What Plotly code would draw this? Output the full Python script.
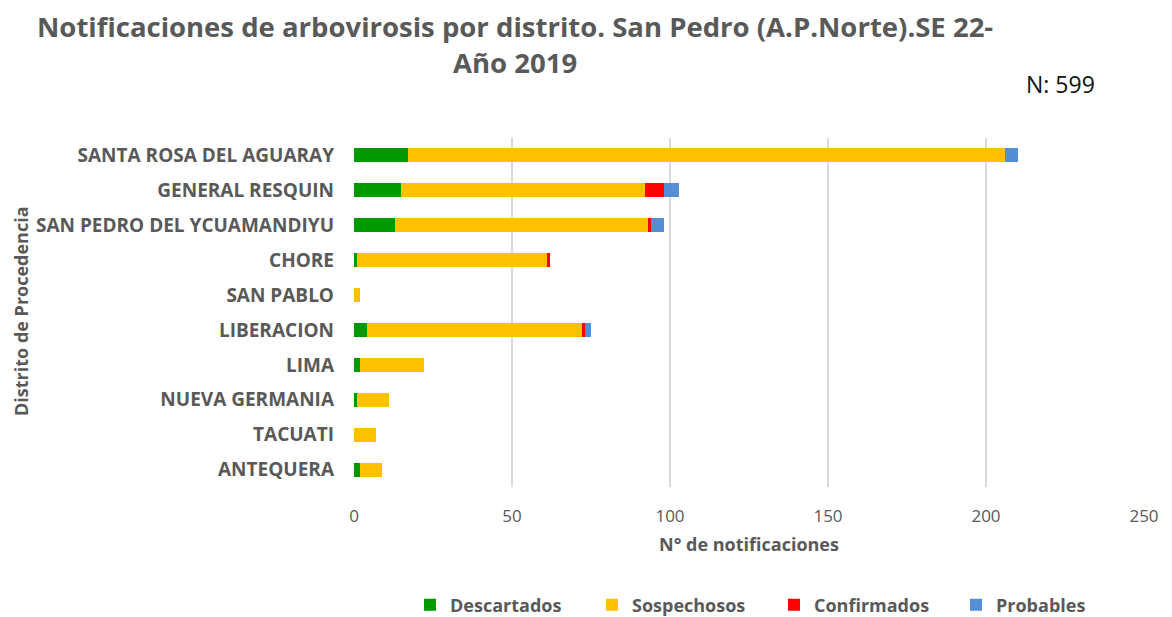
import plotly.graph_objects as go

distritos = ["SANTA ROSA DEL AGUARAY", "GENERAL RESQUIN", "SAN PEDRO DEL YCUAMANDIYU",
             "CHORE", "SAN PABLO", "LIBERACION", "LIMA", "NUEVA GERMANIA",
             "TACUATI", "ANTEQUERA"]
descartados = [17, 15, 13, 1, 0, 4, 2, 1, 0, 2]
sospechosos = [189, 77, 80, 60, 2, 68, 20, 10, 7, 7]
confirmados = [0, 6, 1, 1, 0, 1, 0, 0, 0, 0]
probables = [4, 5, 4, 0, 0, 2, 0, 0, 0, 0]
x_ticks = [0, 50, 100, 150, 200, 250]

W, H = 1172, 617
OFF = 8  # page body margin
# plot area in screen pixels (reference): x 354..1144, y 138..487
L, R, T, B = 354 - OFF, W - (1144 - OFF), 138 - OFF, H - (487 - OFF)

series = [("Descartados", descartados, "#009900"),
          ("Sospechosos", sospechosos, "#FFC000"),
          ("Confirmados", confirmados, "#FF0000"),
          ("Probables", probables, "#558ED5")]

fig = go.Figure()
for name, vals, col in series:
    fig.add_trace(go.Bar(y=distritos, x=vals, name="<b>" + name + "</b>", orientation="h",
                         marker=dict(color=col, line=dict(width=0))))

grey = "#595959"

def px_to_paper_x(px):
    return (px - OFF - L) / (W - L - R)

def px_to_paper_y(py):
    return (H - B - (py - OFF)) / (H - T - B)

fig.update_layout(
    width=W, height=H, barmode="stack", bargap=0.6,
    margin=dict(l=L, r=R, t=T, b=B, autoexpand=False),
    paper_bgcolor="white", plot_bgcolor="white",
    font=dict(family="Open Sans", color=grey),
    showlegend=True,
    legend=dict(orientation="h", x=px_to_paper_x(410), xanchor="left",
                y=px_to_paper_y(605), yanchor="middle",
                font=dict(size=18, color=grey, family="Open Sans"),
                traceorder="normal", entrywidth=137, entrywidthmode="pixels"),
    xaxis=dict(range=[0, 250], tickvals=x_ticks, showgrid=True, gridcolor="#d9d9d9",
               gridwidth=2, zeroline=False, showline=False, automargin=False,
               ticks="outside", ticklen=14, tickcolor="rgba(0,0,0,0)",
               tickfont=dict(size=17, color=grey),
               title=dict(text="<b>N° de notificaciones</b>", font=dict(size=18, color=grey), standoff=11)),
    yaxis=dict(categoryorder="array", categoryarray=distritos[::-1], showgrid=False,
               zeroline=False, showline=False, ticklabelstandoff=19, automargin=False,
               tickfont=dict(size=19, color=grey, family="Open Sans"),
               tickprefix="<b>", ticksuffix="</b>"),
)

fig.add_annotation(text="<b>Notificaciones de arbovirosis por distrito. San Pedro (A.P.Norte).SE 22-<br>Año 2019</b>",
                   xref="paper", yref="paper", x=px_to_paper_x(515), y=px_to_paper_y(44),
                   showarrow=False, font=dict(size=27.5, color=grey), xanchor="center", yanchor="middle",
                   align="center")
fig.add_annotation(text="N: 599", xref="paper", yref="paper",
                   x=px_to_paper_x(1024), y=px_to_paper_y(84), showarrow=False,
                   font=dict(size=23, color="#111111"), xanchor="left", yanchor="middle")
fig.add_annotation(text="<b>Distrito de Procedencia</b>", xref="paper", yref="paper",
                   x=px_to_paper_x(21), y=px_to_paper_y(311), textangle=-90, showarrow=False,
                   font=dict(size=18, color=grey), xanchor="center", yanchor="middle")

fig.write_html("out.html")
